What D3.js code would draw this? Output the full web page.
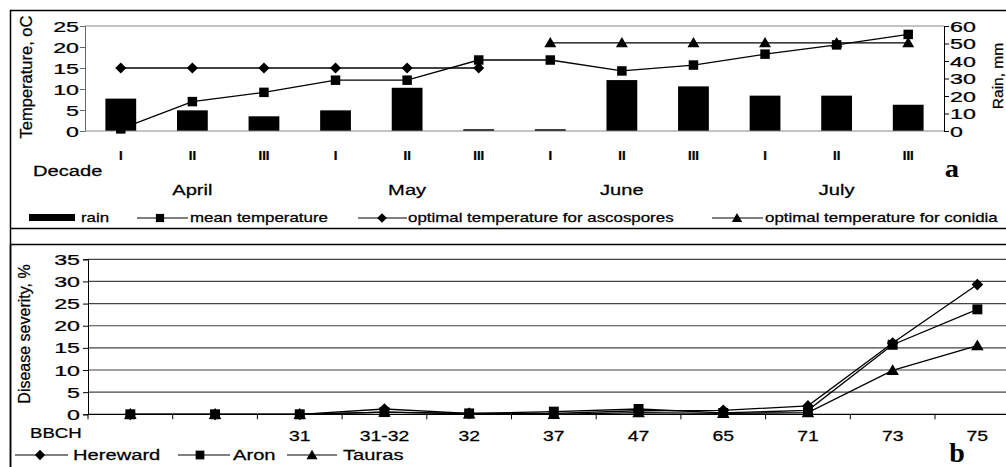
<!DOCTYPE html>
<html><head><meta charset="utf-8">
<script src="https://cdn.jsdelivr.net/npm/d3@7"></script>
<style>
body{margin:0;background:#fff;}
svg{display:block;font-family:"Liberation Sans",Arial,sans-serif;}
text{stroke:#000;stroke-width:0.25px;}
</style></head>
<body>
<svg id="c" width="1006" height="467"></svg>
<script>
// ---------- data: panel a ----------
const decades = ["I","II","III","I","II","III","I","II","III","I","II","III"];
const months = ["April","May","June","July"];
const rain = [18.5, 11.8, 8.4, 11.8, 24.7, 1.0, 1.0, 29.1, 25.5, 20.2, 20.2, 15.0];
const meanTemp = [0.5, 7.0, 9.2, 12.1, 12.1, 16.9, 16.9, 14.3, 15.7, 18.3, 20.5, 23.0];
const ascospores = [15, 15, 15, 15, 15, 15, null, null, null, null, null, null];
const conidia = [null, null, null, null, null, null, 21, 21, 21, 21, 21, 21];
const tempTicks = [0, 5, 10, 15, 20, 25];
const rainTicks = [0, 10, 20, 30, 40, 50, 60];
// ---------- data: panel b ----------
const bbch = ["", "", "31", "31-32", "32", "37", "47", "65", "71", "73", "75"];
const hereward = [0, 0, 0, 1.2, 0.2, 0.2, 0.8, 0.9, 1.9, 16.1, 29.3];
const aron = [0, 0, 0, 0.5, 0.2, 0.6, 1.2, 0.3, 0.9, 15.7, 23.7];
const tauras = [0, 0, 0, 0.5, 0.1, 0.0, 0.4, 0.2, 0.4, 9.9, 15.5];
const sevTicks = [0, 5, 10, 15, 20, 25, 30, 35];

const svg = d3.select("#c");
function T(g, x, y, s, o) {
  o = o || {};
  return g.append("text")
    .attr("transform", `translate(${x},${y}) ${o.rot ? "rotate(" + o.rot + ")" : ""} scale(${o.sx || 1},1)`)
    .attr("text-anchor", o.anchor || "start")
    .style("font-size", (o.size || 15) + "px")
    .style("font-weight", o.bold ? "bold" : "normal")
    .style("font-family", o.serif ? "'Liberation Serif','Times New Roman',serif" : null)
    .style("stroke-width", o.serif ? "0" : null)
    .attr("fill", "#000")
    .text(s);
}
const sq = d3.symbol(d3.symbolSquare);
const tri = d3.symbol(d3.symbolTriangle);
function marker(g, type, x, y, scale) {
  scale = scale || 1;
  if (type === "square") g.append("path").attr("d", sq.size(90 * scale)()).attr("transform", `translate(${x},${y})`);
  else if (type === "diamond") g.append("path").attr("d", sq.size(62 * scale)()).attr("transform", `translate(${x},${y}) rotate(45)`);
  else g.append("path").attr("d", tri.size(62 * scale)()).attr("transform", `translate(${x},${y + 1})`);
}

// ================= Panel A =================
const A = svg.append("g");
A.append("path").attr("d", "M10.5,1006 V10.5 H1010 M10.5,10.5 V228.5 H1010").attr("fill", "none").attr("stroke", "#000").attr("stroke-width", 1.5);
const ax = d3.scaleBand().domain(d3.range(decades.length)).range([85, 944]).paddingInner(0.57).paddingOuter(0.285);
const cx = i => ax(i) + ax.bandwidth() / 2;
const yT = d3.scaleLinear().domain([0, 25]).range([131, 26]);
const yR = d3.scaleLinear().domain([0, 60]).range([131, 26]);

A.append("line").attr("x1", 85).attr("x2", 944).attr("y1", yT(25)).attr("y2", yT(25)).attr("stroke", "#888").attr("stroke-width", 1.2);
A.selectAll("rect.bar").data(rain).join("rect")
  .attr("x", (d, i) => ax(i)).attr("width", ax.bandwidth())
  .attr("y", d => yR(d)).attr("height", d => yR(0) - yR(d)).attr("fill", "#000");
const lAx = A.append("g").attr("transform", "translate(85,0)")
  .call(d3.axisLeft(yT).tickValues(tempTicks).tickSize(5).tickFormat(""));
lAx.select(".domain").attr("stroke", "#666");
lAx.selectAll("line").attr("stroke", "#666");
tempTicks.forEach(t => T(A, 79, yT(t) + 5.5, t, {anchor: "end", size: 15.5, sx: 1.5}));
const rAx = A.append("g").attr("transform", "translate(944,0)")
  .call(d3.axisRight(yR).tickValues(rainTicks).tickSize(5).tickFormat(""));
rAx.select(".domain").attr("stroke", "#000");
rainTicks.forEach(t => T(A, 950, yR(t) + 5.5, t, {anchor: "start", size: 15.5, sx: 1.5}));
A.append("line").attr("x1", 85).attr("x2", 944).attr("y1", yT(0)).attr("y2", yT(0)).attr("stroke", "#888").attr("stroke-width", 1.2);

const lineGen = (ys) => d3.line().defined(d => d != null).x((d, i) => cx(i)).y(d => ys(d));
function series(g, vals, type) {
  g.append("path").datum(vals).attr("d", lineGen(yT)).attr("fill", "none").attr("stroke", "#000").attr("stroke-width", 1.3);
  vals.forEach((v, i) => { if (v != null) marker(g, type, cx(i), yT(v)); });
}
series(A, ascospores, "diamond");
series(A, conidia, "triangle");
series(A, meanTemp, "square");

decades.forEach((d, i) => T(A, cx(i), 160, d, {anchor: "middle", size: 12, bold: true, sx: 1.1}));
months.forEach((m, k) => T(A, cx(k * 3 + 1), 195, m, {anchor: "middle", size: 15.5, sx: 1.3}));
T(A, 33, 176, "Decade", {size: 15.5, sx: 1.3});
T(A, 952, 177, "a", {size: 26, bold: true, serif: true, anchor: "middle", sx: 1.1});
T(A, 32, 77, "Temperature, oC", {rot: -90, anchor: "middle", size: 16.5});
T(A, 1003, 76, "Rain, mm", {rot: -90, anchor: "middle", size: 15.5});

const LA = A.append("g");
LA.append("rect").attr("x", 29).attr("y", 214).attr("width", 46).attr("height", 7).attr("fill", "#000");
T(LA, 81, 222, "rain", {size: 13, sx: 1.3});
[[137, 188, 160, "square", "mean temperature", 190],
 [358, 407, 382, "diamond", "optimal temperature for ascospores", 408],
 [712, 763, 737, "triangle", "optimal temperature for conidia", 765]].forEach(r => {
  LA.append("line").attr("x1", r[0]).attr("x2", r[1]).attr("y1", 218).attr("y2", 218).attr("stroke", "#000").attr("stroke-width", 1.2);
  marker(LA, r[3], r[2], 218, 0.75);
  T(LA, r[5], 222, r[4], {size: 13, sx: 1.3});
});

// ================= Panel B =================
const B = svg.append("g");
B.append("path").attr("d", "M10.5,480 V244.5 H1010").attr("fill", "none").attr("stroke", "#000").attr("stroke-width", 1.5);
const bx = d3.scalePoint().domain(d3.range(bbch.length)).range([88, 1019.7]).padding(0.5);
const step = bx.step();
const yS = d3.scaleLinear().domain([0, 35]).range([414.3, 259.3]);
B.selectAll("line.grid").data(sevTicks.filter(t => t > 0)).join("line")
  .attr("x1", 88).attr("x2", 1020).attr("y1", d => yS(d)).attr("y2", d => yS(d))
  .attr("stroke", "#444").attr("stroke-width", 1.2);
const lB = B.append("g").attr("transform", "translate(88,0)")
  .call(d3.axisLeft(yS).tickValues(sevTicks).tickSize(5).tickFormat(""));
lB.selectAll("path,line").attr("stroke", "#000");
sevTicks.forEach(t => T(B, 80, yS(t) + 5.5, t, {anchor: "end", size: 15.5, sx: 1.5}));
B.append("line").attr("x1", 88).attr("x2", 1020).attr("y1", yS(0)).attr("y2", yS(0)).attr("stroke", "#000").attr("stroke-width", 1.3);
d3.range(bbch.length + 1).forEach(i => {
  B.append("line").attr("x1", 88 + i * step).attr("x2", 88 + i * step).attr("y1", yS(0)).attr("y2", yS(0) + 5).attr("stroke", "#000");
});
bbch.forEach((b, i) => { if (b) T(B, bx(i), 441, b, {anchor: "middle", size: 15.5, sx: 1.25}); });
T(B, 30, 438, "BBCH", {size: 15.5, sx: 1.2});
T(B, 957, 462, "b", {size: 28, bold: true, serif: true, anchor: "middle"});
T(B, 30, 334, "Disease severity, %", {rot: -90, anchor: "middle", size: 16});

const lineB = d3.line().x((d, i) => bx(i)).y(d => yS(d));
function seriesB(vals, type) {
  B.append("path").datum(vals).attr("d", lineB).attr("fill", "none").attr("stroke", "#000").attr("stroke-width", 1.3);
  vals.forEach((v, i) => marker(B, type, bx(i), yS(v), 1.1));
}
seriesB(tauras, "triangle");
seriesB(aron, "square");
seriesB(hereward, "diamond");

[[15, 68, 40, "diamond", "Hereward", 73],
 [178, 230, 200, "square", "Aron", 233],
 [287, 337, 312, "triangle", "Tauras", 343]].forEach(r => {
  B.append("line").attr("x1", r[0]).attr("x2", r[1]).attr("y1", 455).attr("y2", 455).attr("stroke", "#000").attr("stroke-width", 1.2);
  marker(B, r[3], r[2], 455, 0.85);
  T(B, r[5], 460, r[4], {size: 15.5, sx: 1.3});
});
</script>
</body></html>
